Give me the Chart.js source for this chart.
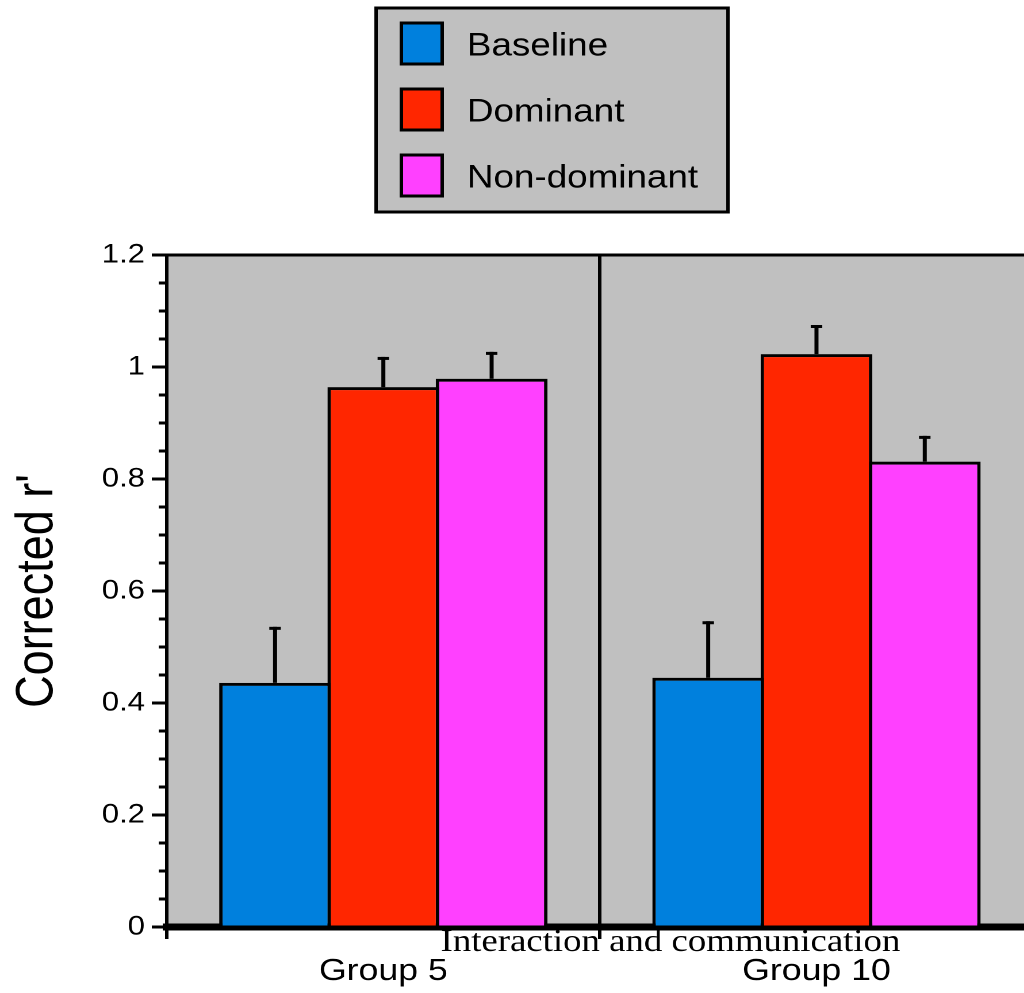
<!DOCTYPE html>
<html>
<head>
<meta charset="utf-8">
<title>Corrected r' by group</title>
<script src="https://cdn.jsdelivr.net/npm/chart.js@4.4.1/dist/chart.umd.min.js"></script>
<style>
  html, body { margin: 0; padding: 0; overflow: hidden; background: #fff; }
  #wrap { width: 1024px; height: 993px; overflow: hidden; }
  /* the original figure is stretched sideways, so the canvas is too */
  #chart { display: block; transform: scaleX(1.15); transform-origin: 0 0; }
</style>
</head>
<body>
<div id="wrap"><canvas id="chart" width="905" height="993"></canvas></div>
<script>
// Data
const groups = ['Group 5', 'Group 10'];
const seriesNames = ['Baseline', 'Dominant', 'Non-dominant'];
const baseline = [0.436, 0.445];
const dominant = [0.964, 1.023];
const nonDominant = [0.979, 0.831];
const baselineErr = [0.100, 0.101];
const dominantErr = [0.054, 0.052];
const nonDominantErr = [0.048, 0.046];
const yTicks = [0, 0.2, 0.4, 0.6, 0.8, 1, 1.2];
const yTitle = "Corrected r'";
const caption = 'Interaction and communication';

const SANS = '"Liberation Sans", Arial, Helvetica, sans-serif';
const SERIF = '"Liberation Serif", "Times New Roman", serif';
const colors = ['#0080dd', '#ff2600', '#ff40ff'];

Chart.defaults.font.family = SANS;
Chart.defaults.color = '#000';

// Grey plot background, top frame line and the caption under the axis
const plotFrame = {
  id: 'plotFrame',
  beforeDraw(chart) {
    const { ctx, chartArea: a } = chart;
    ctx.save();
    ctx.fillStyle = '#c0c0c0';
    ctx.fillRect(a.left, a.top, a.right - a.left, a.bottom - a.top);
    ctx.fillStyle = '#000';
    ctx.font = '32px ' + SERIF;
    ctx.textAlign = 'center';
    ctx.textBaseline = 'alphabetic';
    ctx.fillText(caption, 583, 951);
    ctx.restore();
  },
  afterDraw(chart) {
    const { ctx, chartArea: a } = chart;
    ctx.save();
    ctx.strokeStyle = '#000';
    ctx.lineWidth = 3;
    ctx.beginPath();
    ctx.moveTo(a.left, a.top);
    ctx.lineTo(a.right, a.top);
    ctx.stroke();
    ctx.restore();
  }
};

// Short minor ticks every 0.05 on the y axis
const minorTicks = {
  id: 'minorTicks',
  afterDraw(chart) {
    const { ctx, chartArea: a, scales: { y } } = chart;
    ctx.save();
    ctx.strokeStyle = '#000';
    ctx.lineWidth = 3;
    for (let i = 0; i * 0.05 <= y.max + 1e-9; i++) {
      if (i % 4 === 0) continue;
      const py = y.getPixelForValue(i * 0.05);
      ctx.beginPath();
      ctx.moveTo(a.left - 7, py);
      ctx.lineTo(a.left, py);
      ctx.stroke();
    }
    ctx.restore();
  }
};

// One-sided (upper) error bars with caps
const errorBars = {
  id: 'errorBars',
  afterDatasetsDraw(chart) {
    const { ctx, scales: { y } } = chart;
    ctx.save();
    ctx.strokeStyle = '#000';
    chart.data.datasets.forEach((ds, i) => {
      const meta = chart.getDatasetMeta(i);
      meta.data.forEach((bar, j) => {
        const top = y.getPixelForValue(ds.data[j] + ds.errors[j]);
        ctx.lineWidth = 3.5;
        ctx.beginPath();
        ctx.moveTo(bar.x, bar.y);
        ctx.lineTo(bar.x, top);
        ctx.stroke();
        ctx.lineWidth = 3;
        ctx.beginPath();
        ctx.moveTo(bar.x - 5, top + 1.5);
        ctx.lineTo(bar.x + 5, top + 1.5);
        ctx.stroke();
      });
    });
    ctx.restore();
  }
};

// Boxed legend above the plot, one entry per row
const boxLegend = {
  id: 'boxLegend',
  afterDraw(chart, args, opts) {
    const { ctx } = chart;
    ctx.save();
    ctx.fillStyle = '#c0c0c0';
    ctx.fillRect(opts.x, opts.y, opts.width, opts.height);
    ctx.strokeStyle = '#000';
    ctx.lineWidth = 3;
    ctx.strokeRect(opts.x, opts.y, opts.width, opts.height);
    ctx.font = opts.fontSize + 'px ' + SANS;
    ctx.textBaseline = 'middle';
    chart.data.datasets.forEach((ds, i) => {
      const top = opts.y + opts.firstRow + i * opts.rowGap;
      ctx.fillStyle = ds.backgroundColor;
      ctx.fillRect(opts.x + opts.boxLeft, top, opts.box, opts.boxH);
      ctx.strokeRect(opts.x + opts.boxLeft, top, opts.box, opts.boxH);
      ctx.fillStyle = '#000';
      ctx.fillText(ds.label, opts.x + opts.textLeft, top + opts.boxH / 2 + 3);
    });
    ctx.restore();
  }
};

const values = [baseline, dominant, nonDominant];
const errors = [baselineErr, dominantErr, nonDominantErr];

new Chart(document.getElementById('chart'), {
  type: 'bar',
  data: {
    labels: groups,
    datasets: seriesNames.map((name, i) => ({
      label: name,
      data: values[i],
      errors: errors[i],
      backgroundColor: colors[i],
      borderColor: '#000',
      borderWidth: 3
    }))
  },
  options: {
    responsive: false,
    animation: false,
    devicePixelRatio: 2,
    layout: { padding: { top: 255, left: 0, right: 6.7, bottom: 0 } },
    datasets: {
      bar: { categoryPercentage: 0.75, barPercentage: 1.032 }
    },
    plugins: {
      legend: { display: false },
      tooltip: { enabled: false },
      boxLegend: {
        x: 327, y: 8, width: 306, height: 204,
        boxLeft: 22, textLeft: 79, firstRow: 15, rowGap: 66,
        box: 35.5, boxH: 41, fontSize: 32
      }
    },
    scales: {
      x: {
        z: 1,
        grid: { offset: true, color: '#000', lineWidth: 3, tickLength: 12 },
        border: { color: '#000', width: 7 },
        ticks: { color: '#000', font: { size: 31 }, padding: 14 },
        afterFit(scale) { scale.height = 66; }
      },
      y: {
        z: 1,
        min: 0,
        max: 1.2,
        afterBuildTicks(scale) { scale.ticks = yTicks.map(v => ({ value: v })); },
        grid: { drawOnChartArea: false, color: '#000', lineWidth: 3, tickLength: 13 },
        border: { color: '#000', width: 3 },
        ticks: {
          color: '#000',
          font: { size: 27 },
          padding: 6,
          callback: v => String(v)
        },
        title: {
          display: true,
          text: yTitle,
          color: '#000',
          font: { size: 45 },
          padding: { top: 6, bottom: 0 }
        },
        afterFit(scale) { scale.width = 145; }
      }
    }
  },
  plugins: [plotFrame, minorTicks, errorBars, boxLegend]
});
</script>
</body>
</html>
